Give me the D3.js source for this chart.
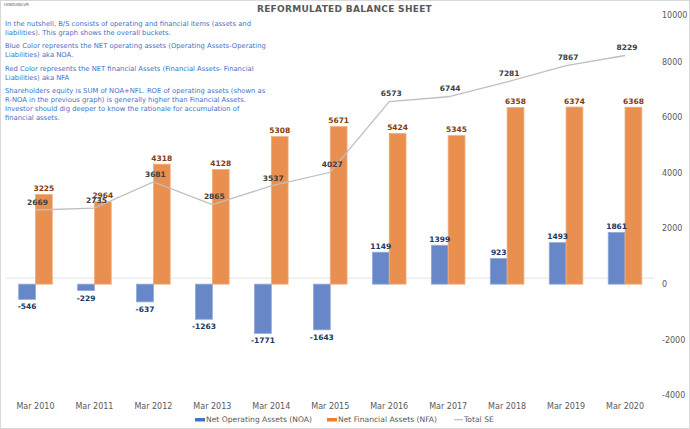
<!DOCTYPE html>
<html><head><meta charset="utf-8">
<script src="https://cdn.jsdelivr.net/npm/d3@7"></script>
<style>
html,body{margin:0;padding:0;background:#fff;}
svg{display:block;font-family:"DejaVu Sans",Verdana,sans-serif;}
</style></head>
<body>
<script>
const categories = ["Mar 2010","Mar 2011","Mar 2012","Mar 2013","Mar 2014","Mar 2015","Mar 2016","Mar 2017","Mar 2018","Mar 2019","Mar 2020"];
const noa = [-546,-229,-637,-1263,-1771,-1643,1149,1399,923,1493,1861];
const nfa = [3225,2964,4318,4128,5308,5671,5424,5345,6358,6374,6368];
const totalSE = [2669,2735,3681,2865,3537,4027,6573,6744,7281,7867,8229];
const yTicks = [-4000,-2000,0,2000,4000,6000,8000,10000];
const seriesNames = ["Net Operating Assets (NOA)","Net Financial Assets (NFA)","Total SE"];
const notes = [
  ["In the nutshell, B/S consists of operating and financial items (assets and","liabilities). This graph shows the overall buckets."],
  ["Blue Color represents the NET operating assets (Operating Assets-Operating","Liabilities) aka NOA."],
  ["Red Color  represents the NET financial Assets (Financial Assets- Financial","Liabilities) aka NFA"],
  ["Shareholders equity is SUM of NOA+NFL. ROE of operating assets (shown as","R-NOA in the previous graph) is generally higher than Financial Assets.","Investor should dig deeper to know the rationale for accumulation of","financial assets."]
];

const W = 690, H = 429;
const svg = d3.select("body").append("svg").attr("width", W).attr("height", H);
svg.append("rect").attr("x",0.5).attr("y",0.5).attr("width",W-1).attr("height",H-1)
  .attr("fill","#fff").attr("stroke","#D9D9D9");

const x = d3.scaleBand().domain(categories).range([6, 654.5]).padding(0);
const y = d3.scaleLinear().domain([-4000, 10000]).range([395.3, 6.3]);
const bw = x.bandwidth() * 0.285;
const cx = d => x(d) + x.bandwidth()/2;

// primary-axis zero line (hidden primary axis)
svg.append("line").attr("x1", x.range()[0]).attr("x2", x.range()[1])
  .attr("y1", y(0) - 6).attr("y2", y(0) - 6).attr("stroke","#E3E3E3").attr("stroke-width",1);

// right axis labels
svg.append("g").selectAll("text").data(yTicks).join("text")
  .attr("x", 662).attr("y", d => Math.max(y(d), 15.5)).attr("dy","0.35em")
  .attr("font-size", 8).attr("fill", "#595959").text(d => d);

// bars
const g = svg.append("g");
g.selectAll("rect.noa").data(categories).join("rect").attr("class","noa")
  .attr("x", d => cx(d) - bw).attr("width", bw)
  .attr("y", (d,i) => Math.min(y(0), y(noa[i])))
  .attr("height", (d,i) => Math.abs(y(noa[i]) - y(0)))
  .attr("fill", "#6787C8").attr("stroke", "#8FA8DA").attr("stroke-width", 0.8);
g.selectAll("rect.nfa").data(categories).join("rect").attr("class","nfa")
  .attr("x", d => cx(d)).attr("width", bw)
  .attr("y", (d,i) => y(nfa[i]))
  .attr("height", (d,i) => y(0) - y(nfa[i]))
  .attr("fill", "#E98F4F").attr("stroke", "#F0AE7E").attr("stroke-width", 0.8);

// line
const line = d3.line().x((d,i) => cx(categories[i])).y(d => y(d));
svg.append("path").datum(totalSE).attr("d", line).attr("fill","none")
  .attr("stroke","#BFBFBF").attr("stroke-width",1.3);

// data labels
svg.append("g").selectAll("text").data(categories).join("text")
  .attr("x", d => cx(d) - bw/2)
  .attr("y", (d,i) => noa[i] < 0 ? y(noa[i]) + 7.5 : y(noa[i]) - 6)
  .attr("dy","0.35em").attr("text-anchor","middle")
  .attr("font-size", 7.5).attr("font-weight","bold").attr("fill","#203864")
  .text((d,i) => noa[i]);
svg.append("g").selectAll("text").data(categories).join("text")
  .attr("x", d => cx(d) + bw/2)
  .attr("y", (d,i) => y(nfa[i]) - 6)
  .attr("dy","0.35em").attr("text-anchor","middle")
  .attr("font-size", 7.5).attr("font-weight","bold").attr("fill","#843C0C")
  .text((d,i) => nfa[i]);
svg.append("g").selectAll("text").data(categories).join("text")
  .attr("x", d => cx(d) + 2)
  .attr("y", (d,i) => y(totalSE[i]) - 8)
  .attr("dy","0.35em").attr("text-anchor","middle")
  .attr("font-size", 7.5).attr("font-weight","bold").attr("fill","#404040")
  .text((d,i) => totalSE[i]);

// x labels
svg.append("g").selectAll("text").data(categories).join("text")
  .attr("x", d => cx(d)).attr("y", 406).attr("dy","0.35em").attr("text-anchor","middle")
  .attr("font-size", 8).attr("fill","#595959").text(d => d);

// title
svg.append("text").attr("x", 344.5).attr("y", 9).attr("dy","0.35em").attr("text-anchor","middle")
  .attr("font-size", 9).attr("font-weight","bold").attr("fill","#595959")
  .attr("letter-spacing", 0.3).text("REFORMULATED BALANCE SHEET");
svg.append("text").attr("x", 4).attr("y", 4.5).attr("dy","0.35em")
  .attr("font-size", 4).attr("fill","#595959").text("HINDUNILVR");

// notes
const paraTops = [24, 45.7, 68.3, 90.3];
notes.forEach((p, pi) => {
  p.forEach((ln, li) => {
    svg.append("text").attr("x", 5).attr("y", paraTops[pi] + li*9).attr("dy","0.35em")
      .attr("font-size", 6.8).attr("fill","#4472C4").text(ln);
  });
});

// legend
const leg = svg.append("g");
const legX = [195, 327, 454];
const legColors = ["#4472C4","#ED7D31","#BFBFBF"];
seriesNames.forEach((n, i) => {
  if (i < 2) {
    leg.append("rect").attr("x", legX[i]).attr("y", 418).attr("width", 10).attr("height", 3.5).attr("fill", legColors[i]);
  } else {
    leg.append("line").attr("x1", legX[i]).attr("x2", legX[i]+9).attr("y1", 419.7).attr("y2", 419.7)
      .attr("stroke", legColors[i]).attr("stroke-width", 1.2);
  }
  leg.append("text").attr("x", legX[i] + (i<2 ? 11 : 10)).attr("y", 419.7).attr("dy","0.35em")
    .attr("font-size", 7.6).attr("fill","#595959").text(n);
});
</script>
</body></html>
